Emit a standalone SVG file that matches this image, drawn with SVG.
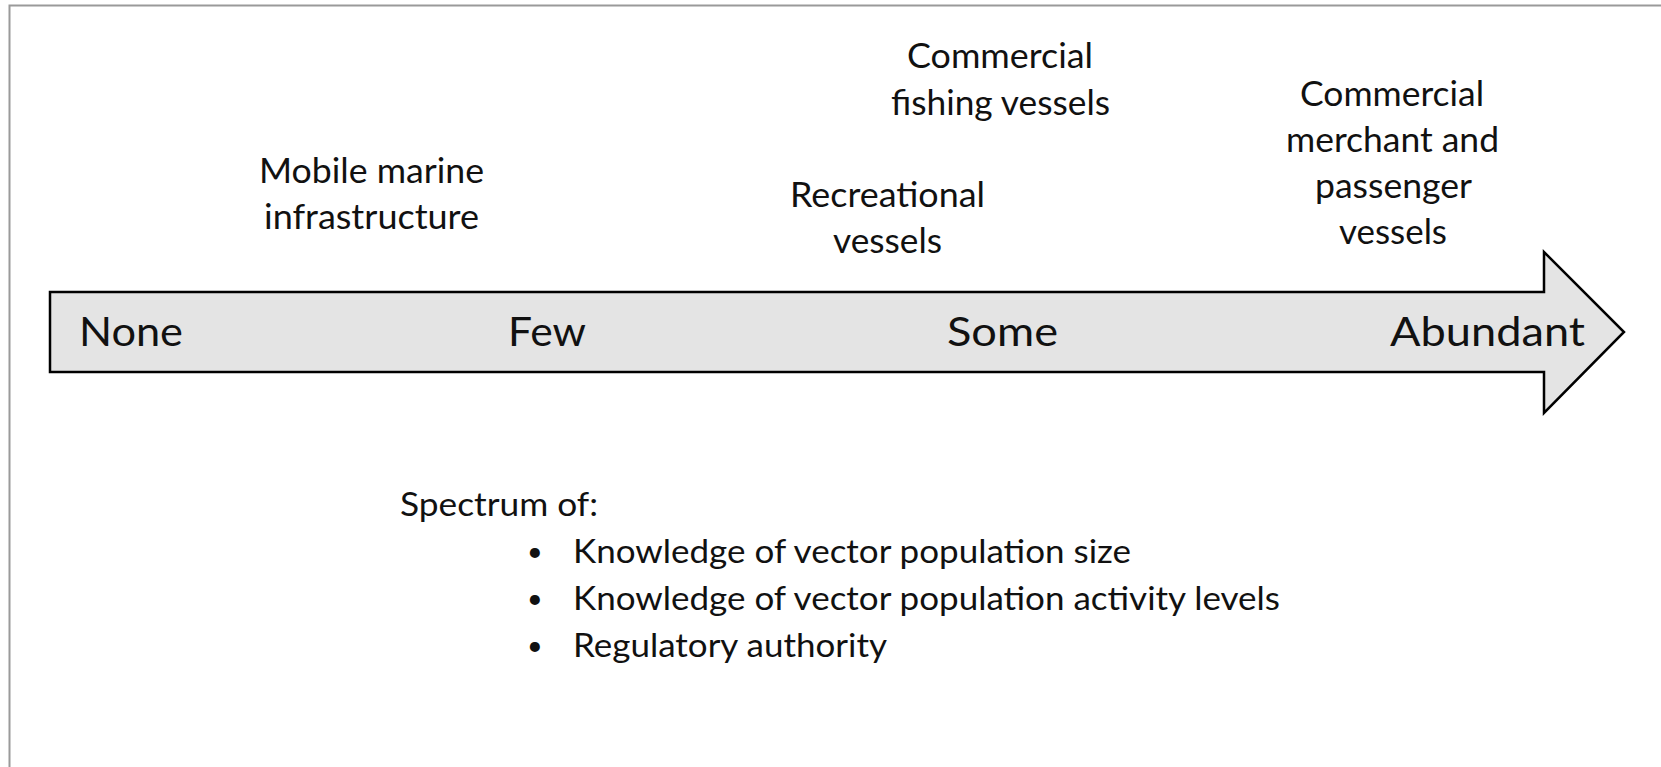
<svg xmlns="http://www.w3.org/2000/svg" width="1661" height="767" viewBox="0 0 1661 767">
<style>
text{font-family:Lato,"Open Sans","Liberation Sans",sans-serif;fill:#111}
.ax{font-size:41px}
.lb{font-size:34px}
.bl{font-size:33px}
.dot{font-size:27px}
</style>
<rect x="0" y="0" width="1661" height="767" fill="#fff"/>
<path id="frame" d="M9.5,767 V5.5 H1661" fill="none" stroke="#9a9a9a" stroke-width="2"/>
<g id="spectrum-arrow">
<path d="M50,292 H1544 V252 L1624,332 L1544,413 V372 H50 Z" fill="#e4e4e4" stroke="#000" stroke-width="2.5" stroke-linejoin="miter"/>
<text class="ax" x="79" y="346" textLength="104" lengthAdjust="spacingAndGlyphs">None</text>
<text class="ax" x="508" y="346" textLength="78" lengthAdjust="spacingAndGlyphs">Few</text>
<text class="ax" x="947" y="346" textLength="111" lengthAdjust="spacingAndGlyphs">Some</text>
<text class="ax" x="1390" y="346" textLength="195" lengthAdjust="spacingAndGlyphs">Abundant</text>
</g>
<g id="mobile-marine">
<text class="lb" x="259" y="183" textLength="225" lengthAdjust="spacingAndGlyphs">Mobile marine</text>
<text class="lb" x="264" y="229" textLength="215" lengthAdjust="spacingAndGlyphs">infrastructure</text>
</g>
<g id="recreational">
<text class="lb" x="790" y="207" textLength="195" lengthAdjust="spacingAndGlyphs">Recreational</text>
<text class="lb" x="833" y="253" textLength="109" lengthAdjust="spacingAndGlyphs">vessels</text>
</g>
<g id="commercial-fishing">
<text class="lb" x="907" y="68" textLength="186" lengthAdjust="spacingAndGlyphs">Commercial</text>
<text class="lb" x="891" y="115" textLength="219" lengthAdjust="spacingAndGlyphs">fishing vessels</text>
</g>
<g id="commercial-merchant">
<text class="lb" x="1300" y="106" textLength="184" lengthAdjust="spacingAndGlyphs">Commercial</text>
<text class="lb" x="1286" y="152" textLength="213" lengthAdjust="spacingAndGlyphs">merchant and</text>
<text class="lb" x="1315" y="198" textLength="157" lengthAdjust="spacingAndGlyphs">passenger</text>
<text class="lb" x="1339" y="244" textLength="108" lengthAdjust="spacingAndGlyphs">vessels</text>
</g>
<g id="spectrum-list">
<text class="bl" x="400" y="516" textLength="198" lengthAdjust="spacingAndGlyphs">Spectrum of:</text>
<text class="dot" x="527" y="561">•</text>
<text class="bl" x="573" y="563" textLength="558" lengthAdjust="spacingAndGlyphs">Knowledge of vector population size</text>
<text class="dot" x="527" y="608">•</text>
<text class="bl" x="573" y="610" textLength="707" lengthAdjust="spacingAndGlyphs">Knowledge of vector population activity levels</text>
<text class="dot" x="527" y="655">•</text>
<text class="bl" x="573" y="657" textLength="314" lengthAdjust="spacingAndGlyphs">Regulatory authority</text>
</g>
<g id="connectors"/>
</svg>
